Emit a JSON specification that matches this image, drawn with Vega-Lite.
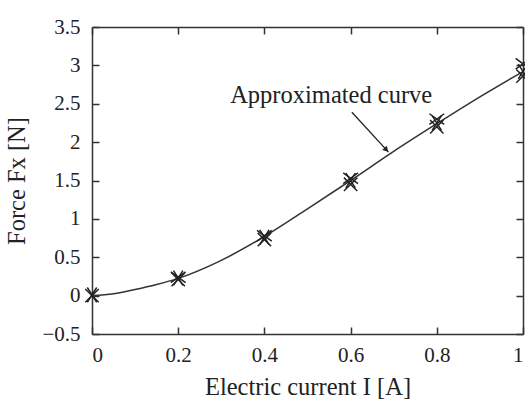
{
  "$schema": "https://vega.github.io/schema/vega-lite/v6.json",
  "width": 431,
  "height": 307,
  "autosize": "none",
  "padding": {"left": 92, "top": 27, "right": 2, "bottom": 67},
  "background": "white",
  "config": {
    "view": {"stroke": null},
    "font": "Liberation Serif",
    "axis": {
      "labelFont": "Liberation Serif",
      "titleFont": "Liberation Serif",
      "labelFontSize": 21,
      "titleFontSize": 24.5,
      "titleFontWeight": "normal",
      "labelColor": "#222",
      "titleColor": "#222",
      "domainColor": "#333",
      "domainWidth": 1.5,
      "tickColor": "#333",
      "tickWidth": 1.5,
      "tickSize": -7,
      "grid": false
    }
  },
  "datasets": {
    "curve": [
      {"current": 0.0, "force": 0.0},
      {"current": 0.05, "force": 0.025},
      {"current": 0.1, "force": 0.08},
      {"current": 0.15, "force": 0.145},
      {"current": 0.2, "force": 0.225},
      {"current": 0.3, "force": 0.46},
      {"current": 0.4, "force": 0.77},
      {"current": 0.5, "force": 1.13},
      {"current": 0.6, "force": 1.5},
      {"current": 0.7, "force": 1.88},
      {"current": 0.8, "force": 2.24},
      {"current": 0.9, "force": 2.59},
      {"current": 1.0, "force": 2.92}
    ],
    "measured": [
      {"current": 0.0, "force": 0.0, "trial": "a"},
      {"current": 0.0, "force": 0.01, "trial": "b"},
      {"current": 0.2, "force": 0.21, "trial": "a"},
      {"current": 0.2, "force": 0.23, "trial": "b"},
      {"current": 0.2, "force": 0.24, "trial": "c"},
      {"current": 0.4, "force": 0.73, "trial": "a"},
      {"current": 0.4, "force": 0.76, "trial": "b"},
      {"current": 0.4, "force": 0.78, "trial": "c"},
      {"current": 0.6, "force": 1.45, "trial": "a"},
      {"current": 0.6, "force": 1.5, "trial": "b"},
      {"current": 0.6, "force": 1.53, "trial": "c"},
      {"current": 0.8, "force": 2.2, "trial": "a"},
      {"current": 0.8, "force": 2.25, "trial": "b"},
      {"current": 0.8, "force": 2.3, "trial": "c"},
      {"current": 1.0, "force": 2.86, "trial": "a"},
      {"current": 1.0, "force": 2.92, "trial": "b"},
      {"current": 1.0, "force": 3.02, "trial": "c"}
    ],
    "note": [
      {"label": "Approximated curve"}
    ]
  },
  "layer": [
    {
      "data": {"name": "curve"},
      "mark": {"type": "line", "interpolate": "monotone", "color": "#333", "strokeWidth": 1.5},
      "encoding": {
        "x": {
          "field": "current", "type": "quantitative",
          "scale": {"domain": [0, 1], "nice": false, "zero": false},
          "axis": {"orient": "bottom", "values": [0, 0.2, 0.4, 0.6, 0.8, 1], "format": "~f", "title": "Electric current I [A]", "labelPadding": 17, "titlePadding": 10}
        },
        "y": {
          "field": "force", "type": "quantitative",
          "scale": {"domain": [-0.5, 3.5], "nice": false, "zero": false},
          "axis": {"orient": "left", "values": [-0.5, 0, 0.5, 1, 1.5, 2, 2.5, 3, 3.5], "format": "~f", "title": "Force Fx [N]", "labelPadding": 19, "titlePadding": 12}
        }
      }
    },
    {
      "data": {"name": "measured"},
      "mark": {"type": "point", "filled": false, "strokeWidth": 1.5, "color": "#222", "size": 180, "opacity": 1},
      "encoding": {
        "x": {
          "field": "current", "type": "quantitative",
          "axis": {"orient": "top", "values": [0, 0.2, 0.4, 0.6, 0.8, 1], "labels": false, "title": null}
        },
        "y": {
          "field": "force", "type": "quantitative",
          "axis": {"orient": "right", "values": [-0.5, 0, 0.5, 1, 1.5, 2, 2.5, 3, 3.5], "labels": false, "title": null}
        },
        "shape": {
          "field": "trial", "type": "nominal",
          "scale": {"domain": ["a", "b", "c"], "range": ["M-1,-1L1,1M1,-1L-1,1", "M-0.7,-1.1L0.7,1.1M0.7,-1.1L-0.7,1.1", "M-1.1,-0.8L1.1,0.8M1.1,-0.8L-1.1,0.8"]},
          "legend": null
        }
      }
    },
    {
      "data": {"name": "note"},
      "mark": {"type": "rule", "color": "#222", "strokeWidth": 1.3},
      "encoding": {
        "x": {"datum": 0.603, "type": "quantitative", "axis": null},
        "y": {"datum": 2.39, "type": "quantitative", "axis": null},
        "x2": {"datum": 0.688},
        "y2": {"datum": 1.87}
      }
    },
    {
      "data": {"name": "note"},
      "mark": {"type": "point", "shape": "triangle-up", "filled": true, "color": "#222", "size": 40, "angle": 137, "opacity": 1},
      "encoding": {
        "x": {"datum": 0.683, "type": "quantitative", "axis": null},
        "y": {"datum": 1.9, "type": "quantitative", "axis": null}
      }
    },
    {
      "data": {"name": "note"},
      "mark": {"type": "text", "font": "Liberation Serif", "fontSize": 24.5, "color": "#222", "align": "center", "baseline": "middle"},
      "encoding": {
        "x": {"datum": 0.555, "type": "quantitative", "axis": null},
        "y": {"datum": 2.6, "type": "quantitative", "axis": null},
        "text": {"field": "label", "type": "nominal"}
      }
    }
  ],
  "resolve": {"axis": {"x": "independent", "y": "independent"}}
}
